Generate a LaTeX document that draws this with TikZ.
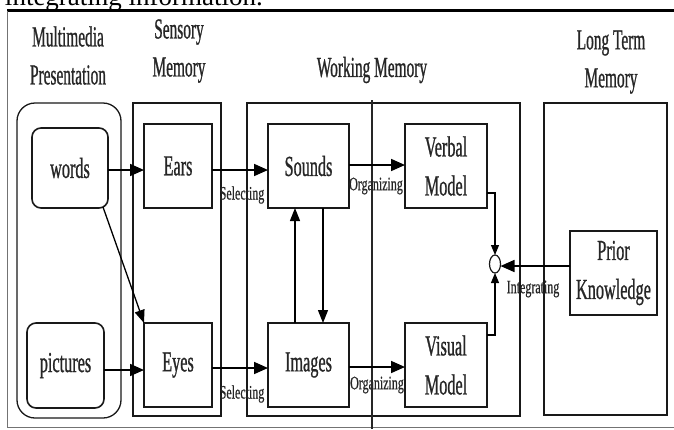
\documentclass[tikz,border=0pt]{standalone}
\usepackage{fontspec}
\setmainfont{Liberation Serif}
\newfontfamily\headfont[FakeStretch=0.53,FakeBold=0.8]{Liberation Serif}
\newfontfamily\boxfont[FakeStretch=0.56,FakeBold=0.8]{Liberation Serif}
\newfontfamily\tagfont[FakeStretch=0.63,FakeBold=0.6]{Liberation Serif}
\usetikzlibrary{arrows.meta,calc,shapes.geometric}

\begin{document}
\begin{tikzpicture}[x=1pt, y=-1pt,
  every node/.style={inner sep=0pt, outer sep=0pt},
  sz/.style n args={2}{minimum width=#1pt, minimum height=#2pt},
  zone/.style={draw=black!90, line width=1.3pt, rectangle},
  blk/.style={draw=black!90, line width=1.6pt, rectangle, align=center,
    font=\boxfont\fontsize{29}{39}\selectfont, text=black!85},
  head/.style={align=center, font=\headfont\fontsize{29}{38}\selectfont, text=black!85},
  tag/.style={font=\tagfont\fontsize{19}{20}\selectfont, text=black!85},
  flow/.style={line width=1.7pt, -{Triangle[length=14pt,width=12pt]}},
  link/.style={line width=1.3pt, -{Triangle[length=13pt,width=10pt]}},
  joint/.style={line width=1.1pt, -{Triangle[length=10pt,width=8pt]}}]

\useasboundingbox (0,0) rectangle (674,429);

% running text of the page above the figure, cut by the page edge
\begin{scope}
  \clip (0,0) rectangle (674,429);
  \node[anchor=base west, font=\fontsize{27}{30}\selectfont] (caption) at (5,5) {integrating information.};
\end{scope}

% figure frame
\draw[line width=2.4pt] (7,10.5) -- (674,10.5);
\draw[black!55, line width=0.9pt] (7,10.5) -- (7,427) -- (674,427);

% column headings
\node[head] (hmm)   at (68,55.5)  {Multimedia\\Presentation};
\node[head] (hsens) at (179,51)   {Sensory\\Memory};
\node[head] (hwork) at (372,70)   {Working Memory};
\node[head] (hlong) at (611,62)   {Long Term\\Memory};

% memory zones
\node[zone, rounded corners=18pt, sz={104}{315}] (mmzone)   at (69,260.5)  {};
\node[zone, sz={88}{313}]                         (senszone) at (177,259.5) {};
\node[zone, sz={273}{313}]                        (workzone) at (383.5,259.5) {};
\node[zone, sz={123}{312}]                        (longzone) at (605.5,259) {};
\draw[black!85, line width=1.2pt] (372,100) -- (372,429);

% information units
\node[blk, rounded corners=9pt, sz={76}{80}] (words)    at (70,168)    {words};
\node[blk, rounded corners=9pt, sz={77}{85}] (pictures) at (65.5,365.5) {pictures};
\node[blk, sz={68}{84}] (ears)   at (178,166)   {Ears};
\node[blk, sz={68}{84}] (eyes)   at (178,365)   {Eyes};
\node[blk, sz={81}{84}] (sounds) at (308.5,166) {Sounds};
\node[blk, sz={81}{84}] (images) at (308.5,365) {Images};
\node[blk, sz={82}{84}] (verbal) at (446,166)   {Verbal\\Model};
\node[blk, sz={82}{84}] (visual) at (446,365)   {Visual\\Model};
\node[blk, sz={87}{84}] (prior)  at (613.5,273) {Prior\\Knowledge};
\node[draw=black!90, line width=1.2pt, ellipse, minimum width=11pt, minimum height=18pt] (merge) at (495,264) {};

% selecting
\draw[flow] ([yshift=-2pt]words.east) -- ([yshift=-2pt]words.east -| ears.west);
\draw[flow] ([yshift=-4.5pt]pictures.east) -- ([yshift=-4.5pt]pictures.east -| eyes.west);
\draw[link] ([xshift=-5pt,yshift=1pt]words.south east) -- (eyes.north west);
\draw[flow] ([yshift=-4pt]ears.east) -- ([yshift=-4pt]ears.east -| sounds.west);
\draw[flow] ([yshift=-3pt]eyes.east) -- ([yshift=-3pt]eyes.east -| images.west);
\node[tag] (sel1) at (242,195) {Selecting};
\node[tag] (sel2) at (242,394) {Selecting};

% exchange inside working memory
\draw[link] ([xshift=-13.5pt]images.north) -- ([xshift=-13.5pt]sounds.south);
\draw[link] ([xshift=14.5pt]sounds.south) -- ([xshift=14.5pt]images.north);

% organizing
\draw[flow] ([yshift=1pt]sounds.east) -- ([yshift=1pt]sounds.east -| verbal.west);
\draw[flow] ([yshift=-2pt]images.east) -- ([yshift=-2pt]images.east -| visual.west);
\node[tag] (org1) at (376,186) {Organizing};
\node[tag] (org2) at (377,385) {Organizing};

% integrating
\draw[joint] ([yshift=-27pt]verbal.east) -| (merge.north);
\draw[joint] ([yshift=30pt]visual.east) -| (merge.south);
\draw[flow] ([yshift=7pt]prior.west) -- ([yshift=7pt]prior.west -| merge.east);
\node[tag] (integ) at (533,289) {Integrating};
\end{tikzpicture}
\end{document}
